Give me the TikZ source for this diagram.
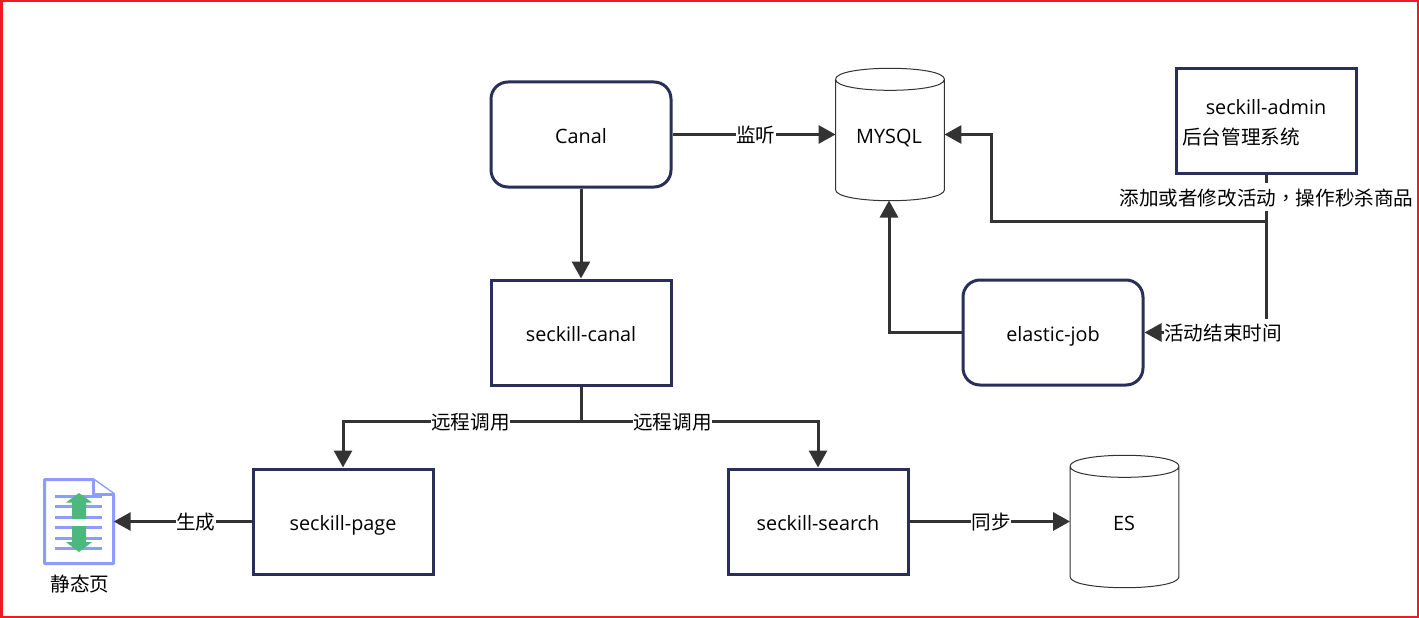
\documentclass[tikz,border=0pt]{standalone}
\usepackage{fontspec}
\setmainfont{Noto Sans CJK SC}
\newfontfamily\latinf{Open Sans}
\newfontfamily\tcf{Noto Sans CJK TC}
\usetikzlibrary{arrows.meta,calc}
\definecolor{boxc}{HTML}{2A2F5A}
\definecolor{linec}{HTML}{333333}
\definecolor{iconb}{HTML}{8C9CFF}
\definecolor{icong}{HTML}{4CB87E}
\definecolor{framec}{HTML}{ED1C24}
\newcommand{\lt}[1]{\raisebox{0pt}[17pt][0pt]{\fontsize{19.8}{24}\latinf\selectfont #1}}
\newcommand{\cj}[1]{\raisebox{0pt}[22pt][6pt]{#1}}
\tikzset{
  x=1pt,y=-1pt,
  every node/.style={font=\fontsize{19.6}{24}\selectfont,text=black,inner sep=0pt},
  sqbox/.style={draw=boxc,line width=3pt,rectangle,minimum width=180pt,minimum height=105pt,fill=white},
  rdbox/.style={sqbox,rounded corners=17pt},
  conn/.style={draw=linec,line width=3pt,-{Triangle[length=17pt,width=18pt]}},
  lab/.style={fill=white,inner xsep=0.5pt,inner ysep=0pt},
  dbase/.style={rectangle,minimum width=#1,minimum height=132pt},
  cylline/.style={draw=linec,line width=1pt,fill=white},
  iconfold/.style={draw=iconb,line width=3pt,line join=round,fill=white},
  iconline/.style={draw=iconb,line width=3pt},
  icongreen/.style={fill=icong,draw=none}
}
\begin{document}
\begin{tikzpicture}
\useasboundingbox (0,0) rectangle (1419,618);
\fill[white] (0,0) rectangle (1419,618);
\draw[framec,line width=3pt] (1,1) rectangle (1418,617);

% boxes
\node[rdbox] (canal) at (581,134.5) {\lt{Canal}};
\node[sqbox] (scanal) at (581,332.5) {\lt{seckill-canal}};
\node[sqbox] (spage) at (343,521.5) {\lt{seckill-page}};
\node[sqbox] (ssearch) at (818,521.5) {\lt{seckill-search}};
\node[rdbox] (ejob) at (1053,332.5) {\lt{elastic-job}};
\node[sqbox] (sadmin) at (1266,121) {};
\node (admintxt) at (1266,105.8) {\lt{seckill-admin}};
\node[anchor=west] (admincn) at (1182,137) {后台管理系统};

% cylinders
\node[dbase=108.5pt] (mysql) at (890,134.5) {};
\node[dbase=108.5pt] (es) at (1124.5,521.5) {};
\foreach \n in {mysql,es}{
  \path[cylline] ($(\n.north west)+(0,11)$)
    -- ($(\n.south west)+(0,-11)$)
    .. controls ($(\n.south west)+(0,3.7)$) and ($(\n.south east)+(0,3.7)$) .. ($(\n.south east)+(0,-11)$)
    -- ($(\n.north east)+(0,11)$)
    .. controls ($(\n.north east)+(0,-3.7)$) and ($(\n.north west)+(0,-3.7)$) .. ($(\n.north west)+(0,11)$)
    .. controls ($(\n.north west)+(0,25.7)$) and ($(\n.north east)+(0,25.7)$) .. ($(\n.north east)+(0,11)$);
}
\node (mysqltxt) at (889,134.5) {\lt{MYSQL}};
\node (estxt) at (1124,521.5) {\lt{ES}};

% file icon
\node[rectangle,minimum width=72pt,minimum height=86pt] (file) at (77.5,521.5) {};
\path[iconfold] (44.5,479.5) -- (93,479.5) -- (113.5,494) -- (113.5,563.5) -- (44.5,563.5) -- cycle;
\path[iconfold] (93,479.5) -- (93,494) -- (113.5,494);
\foreach \yy in {506.5,517,527.5,538,548.5,496}{
  \path[iconline] (55,\yy) -- (102,\yy);
}
\path[icongreen] (79,493) -- (92,502.5) -- (86,502.5) -- (86,519) -- (72,519) -- (72,502.5) -- (66,502.5) -- cycle;
\path[icongreen] (79,552) -- (92,542) -- (86,542) -- (86,526) -- (72,526) -- (72,542) -- (66,542) -- cycle;
\node (filelab) at (80,584) {静态页};

% connectors
\coordinate (j1) at (1266,221);
\coordinate (j2) at (581,421.5);
\path[conn] (canal.east) -- node[lab,pos=0.51] {\cj{监听}} (mysql.west);
\path[conn] (canal.south) -- (scanal.north);
\path[conn] (sadmin.south) -- (j1) -- (991,221) -- (991,134.5) -- (mysql.east);
\path[conn] (j1) -- (1266,332.5) -- (ejob.east);
\path[conn] (ejob.west) -- (889,332.5) -- (889,200.5);
\path[conn] (scanal.south) -- (j2) -- (343,421.5) -- (spage.north);
\path[conn] (j2) -- (818,421.5) -- (ssearch.north);
\node[lab] (lbadd) at (1266.5,197) {\cj{添加或者修改活动{\tcf ，}操作秒杀商品}};
\node[lab] (lbend) at (1223,332.5) {\cj{活动结束时间}};
\node[lab] (lbr1) at (470.5,421) {\cj{远程调用}};
\node[lab] (lbr2) at (672.5,421) {\cj{远程调用}};
\path[conn] (spage.west) -- node[lab,pos=0.405] {\cj{生成}} (file.east);
\path[conn] (ssearch.east) -- node[lab,pos=0.51] {\cj{同步}} (es.west);
\end{tikzpicture}
\end{document}
